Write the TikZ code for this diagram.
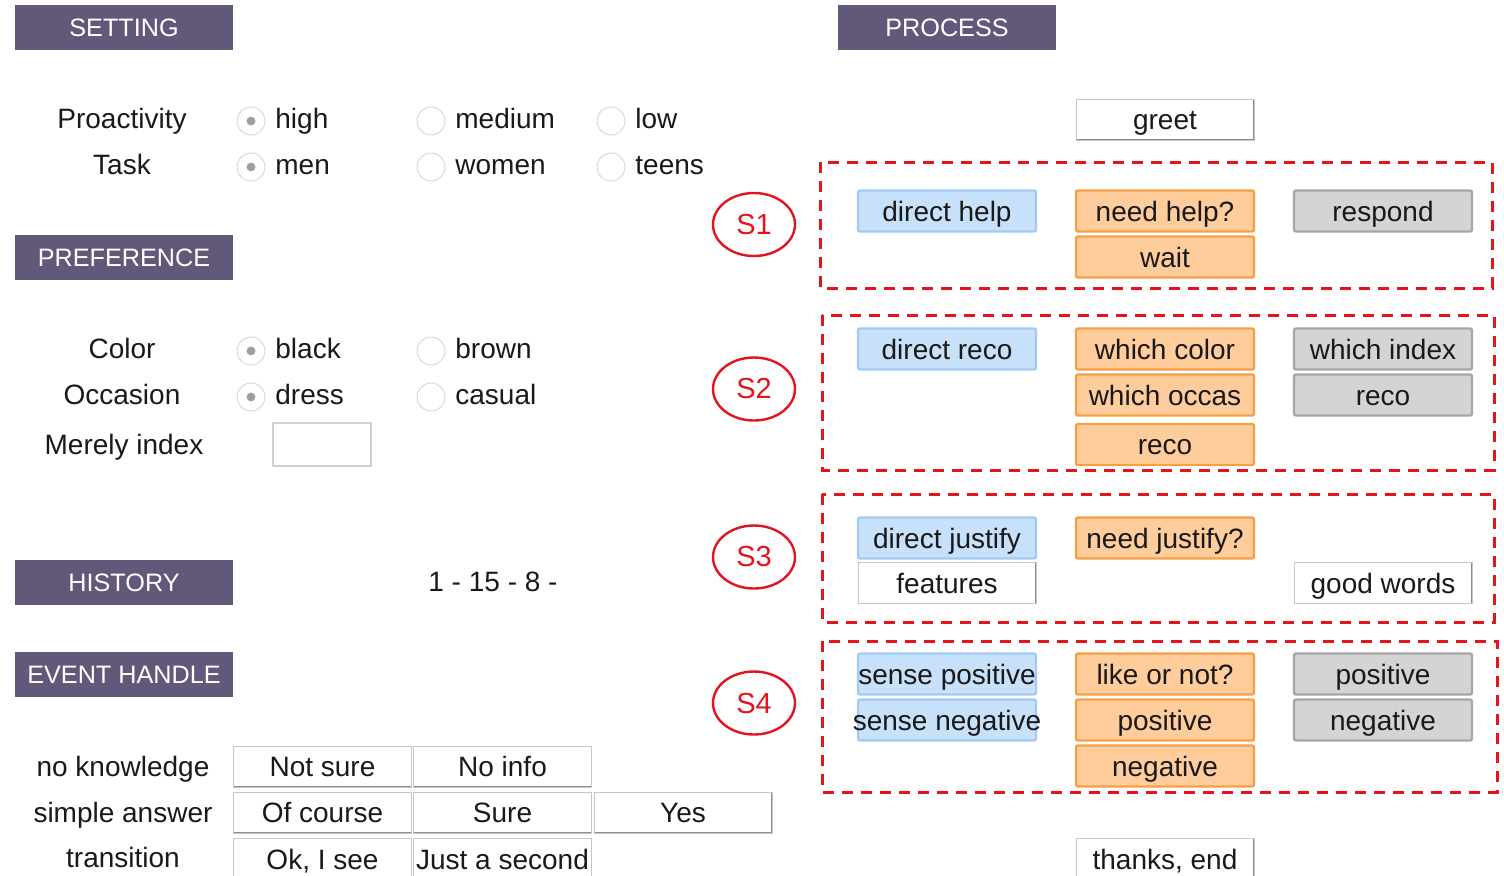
\documentclass[tikz,border=0pt]{standalone}
\usepackage{fontspec}
\setmainfont{Liberation Sans}
\usetikzlibrary{shapes.geometric}

\definecolor{hdr}{RGB}{98,88,122}
\definecolor{bfill}{RGB}{200,225,250}
\definecolor{bline}{RGB}{160,203,245}
\definecolor{ofill}{RGB}{255,205,155}
\definecolor{oline}{RGB}{246,160,70}
\definecolor{gfill}{RGB}{212,212,212}
\definecolor{gline}{RGB}{166,166,166}
\definecolor{sred}{RGB}{228,20,28}
\definecolor{ink}{RGB}{25,25,25}

% button: style, name, centre x, centre y, caption
\newcommand{\uibtn}[5]{%
  \node[#1] (#2) at (#3,#4) {};
  \node[btntext] (#2-t) at (#3,#4+10) {#5};}

\begin{document}
\begin{tikzpicture}[x=0.5pt,y=-0.5pt,
  hdrbar/.style={fill=hdr, minimum width=109pt, minimum height=22.5pt, inner sep=0,
    text=white, font=\fontsize{12.6}{14}\selectfont},
  lbl/.style={anchor=base, inner sep=0, text=ink, font=\fontsize{14}{16}\selectfont},
  opt/.style={anchor=base west, inner sep=0, text=ink, font=\fontsize{14}{16}\selectfont},
  btntext/.style={anchor=base, inner sep=0, text=ink, font=\fontsize{14}{16}\selectfont},
  radio/.style={circle, draw=black!15, fill=white, minimum size=14pt, inner sep=0, line width=0.5pt},
  radiosel/.style={radio, path picture={\fill[black!38] (path picture bounding box.center) circle (2.2pt);}},
  btnbase/.style={minimum width=89pt, minimum height=20.5pt, inner sep=0},
  bluebtn/.style={btnbase, fill=bfill, draw=bline, line width=1.2pt, rounded corners=1pt},
  orangebtn/.style={btnbase, fill=ofill, draw=oline, line width=1.2pt, rounded corners=1pt},
  graybtn/.style={btnbase, fill=gfill, draw=gline, line width=1.2pt, rounded corners=1pt},
  whitebtn/.style={btnbase, fill=white, draw=black!22, line width=0.5pt,
    path picture={\draw[black!45, line width=1pt]
      (path picture bounding box.south west) -- (path picture bounding box.south east)
      -- (path picture bounding box.north east);}},
  stagebox/.style={draw=sred, line width=1.5pt, dash pattern=on 5.5pt off 4pt},
  stagetag/.style={ellipse, draw=sred, line width=1.2pt, minimum width=41pt, minimum height=31.5pt,
    inner sep=0, text=sred, font=\fontsize{14.5}{16}\selectfont}]

\useasboundingbox (0,0) rectangle (1504,875);
\clip (0,0) rectangle (1504,875);

% section headers
\node[hdrbar] (hset) at (124,27.5) {SETTING};
\node[hdrbar] (hpref) at (124,257.5) {PREFERENCE};
\node[hdrbar] (hhist) at (124,582.5) {HISTORY};
\node[hdrbar] (hevt) at (124,674.5) {EVENT HANDLE};
\node[hdrbar] (hproc) at (947,27.5) {PROCESS};

% setting
\node[lbl] (lpro) at (122,128) {Proactivity};
\node[lbl] (ltask) at (122,174) {Task};
\node[radiosel] (rpro1) at (251,121) {};
\node[opt] (tpro1) at (275,128) {high};
\node[radio] (rpro2) at (431,121) {};
\node[opt] (tpro2) at (455,128) {medium};
\node[radio] (rpro3) at (611,121) {};
\node[opt] (tpro3) at (635,128) {low};
\node[radiosel] (rtask1) at (251,167) {};
\node[opt] (ttask1) at (275,174) {men};
\node[radio] (rtask2) at (431,167) {};
\node[opt] (ttask2) at (455,174) {women};
\node[radio] (rtask3) at (611,167) {};
\node[opt] (ttask3) at (635,174) {teens};

% preference
\node[lbl] (lcol) at (122,358) {Color};
\node[lbl] (locc) at (122,404) {Occasion};
\node[lbl] (lidx) at (124,454) {Merely index};
\node[radiosel] (rcol1) at (251,351) {};
\node[opt] (tcol1) at (275,358) {black};
\node[radio] (rcol2) at (431,351) {};
\node[opt] (tcol2) at (455,358) {brown};
\node[radiosel] (rocc1) at (251,397) {};
\node[opt] (tocc1) at (275,404) {dress};
\node[radio] (rocc2) at (431,397) {};
\node[opt] (tocc2) at (455,404) {casual};
\node[draw=black!18, fill=white, line width=0.6pt, minimum width=49pt, minimum height=21.5pt, inner sep=0]
  (idxbox) at (322,444.5) {};

% history
\node[opt] (hseq) at (428,591) {1 - 15 - 8 -};

% event handle
\node[lbl] (lnok) at (123,776) {no knowledge};
\node[lbl] (lsimp) at (123,822) {simple answer};
\node[lbl] (ltran) at (123,867) {transition};
\uibtn{whitebtn}{enotsure}{322.5}{766.5}{Not sure}
\uibtn{whitebtn}{enoinfo}{502.5}{766.5}{No info}
\uibtn{whitebtn}{ecourse}{322.5}{812.5}{Of course}
\uibtn{whitebtn}{esure}{502.5}{812.5}{Sure}
\uibtn{whitebtn}{eyes}{683}{812.5}{Yes}
\uibtn{whitebtn}{eoksee}{322.5}{859}{Ok, I see}
\uibtn{whitebtn}{ejust}{502.5}{859}{Just a second}

% process
\uibtn{whitebtn}{pgreet}{1165}{119.5}{greet}

\draw[stagebox] (820,162) rectangle (1492,288);
\node[stagetag] (s1) at (754,224.5) {S1};
\uibtn{bluebtn}{pdhelp}{947}{211}{direct help}
\uibtn{orangebtn}{pneed}{1165}{211}{need help?}
\uibtn{orangebtn}{pwait}{1165}{257}{wait}
\uibtn{graybtn}{presp}{1383}{211}{respond}

\draw[stagebox] (822,315) rectangle (1494,470);
\node[stagetag] (s2) at (754,389) {S2};
\uibtn{bluebtn}{pdreco}{947}{349}{direct reco}
\uibtn{orangebtn}{pwcol}{1165}{349}{which color}
\uibtn{orangebtn}{pwocc}{1165}{395}{which occas}
\uibtn{orangebtn}{preco}{1165}{444.5}{reco}
\uibtn{graybtn}{pwidx}{1383}{349}{which index}
\uibtn{graybtn}{precog}{1383}{395}{reco}

\draw[stagebox] (822,494) rectangle (1494,622);
\node[stagetag] (s3) at (754,557) {S3};
\uibtn{bluebtn}{pdjust}{947}{538}{direct justify}
\uibtn{whitebtn}{pfeat}{947}{583}{features}
\uibtn{orangebtn}{pnjust}{1165}{538}{need justify?}
\uibtn{whitebtn}{pgood}{1383}{583}{good words}

\draw[stagebox] (822,641) rectangle (1497,792);
\node[stagetag] (s4) at (754,703) {S4};
\uibtn{bluebtn}{psenp}{947}{674}{sense positive}
\uibtn{bluebtn}{psenn}{947}{720}{sense negative}
\uibtn{orangebtn}{plike}{1165}{674}{like or not?}
\uibtn{orangebtn}{ppos}{1165}{720}{positive}
\uibtn{orangebtn}{pneg}{1165}{766}{negative}
\uibtn{graybtn}{pposg}{1383}{674}{positive}
\uibtn{graybtn}{pnegg}{1383}{720}{negative}

\uibtn{whitebtn}{pthanks}{1165}{859}{thanks, end}

\end{tikzpicture}
\end{document}
